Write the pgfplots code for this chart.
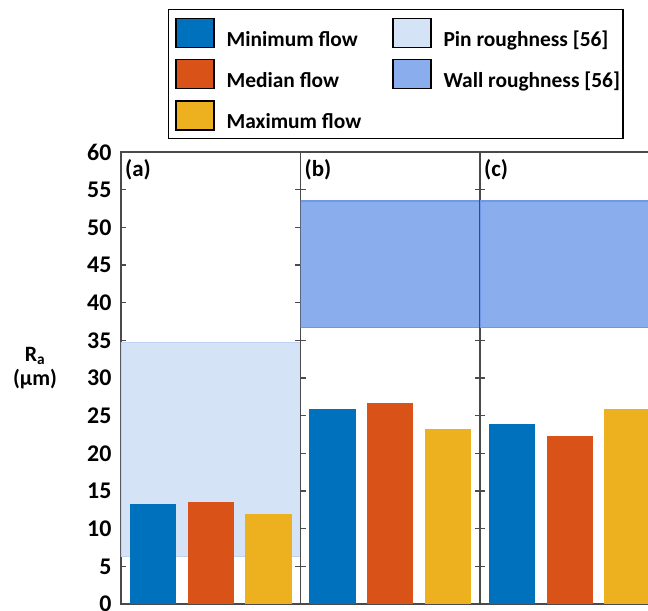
\documentclass[border=0pt]{standalone}
\usepackage{pgfplots}
\pgfplotsset{compat=1.18}
\usepackage{fontspec}
\setmainfont{Carlito}
\definecolor{cmin}{HTML}{0072BD}
\definecolor{cmed}{HTML}{D95319}
\definecolor{cmax}{HTML}{EDB120}
\definecolor{cpin}{HTML}{D5E3F7}
\definecolor{cpinedge}{HTML}{BFD2F4}
\definecolor{cwall}{HTML}{8AADEE}
\definecolor{cwalledge}{HTML}{6F97E4}
\definecolor{axgray}{HTML}{4A4A4A}

\tikzset{plab/.style={anchor=north west, inner sep=0pt, font=\fontsize{23}{23}\selectfont\bfseries}}
\pgfplotsset{
  panel/.style={
    scale only axis, width=179.5bp, height=452bp,
    xmin=0.45, xmax=3.55, ymin=0, ymax=60,
    xtick=\empty, ytick={0,5,...,60},
    tick align=inside, ytick pos=both, major tick length=5bp,
    axis line style={axgray, line width=1.3bp},
    every tick/.style={axgray, line width=1.2bp},
    bar width=0.8,
    /pgf/number format/assume math mode=true,
    tick label style={font=\fontsize{24}{24}\selectfont\bfseries},
    yticklabel style={xshift=-6bp},
    anchor=south west,
  },
  bars/.style={ybar, bar shift=0pt, draw=none, forget plot},
}

\begin{document}
\begin{tikzpicture}
% ---------------- panel (a)
\begin{axis}[panel, at={(0bp,0bp)},
  every axis y label/.style={at={(axis description cs:-0.479,0.522)}, anchor=center, align=center, font=\fontsize{22}{24}\selectfont\bfseries},
  ylabel={R\textsubscript{a}\\(µm)},
  legend columns=2,
  legend cell align=left,
  legend image code/.code={\path (0bp,0bp); \fill[#1] (4bp,-8bp) rectangle (42bp,21bp);},
  legend style={at={(1.53,1.316)}, anchor=north, draw=black, line width=1.3bp,
    font=\fontsize{21.5}{21.5}\selectfont\bfseries,
    nodes={inner sep=0pt},
    inner xsep=3bp, inner ysep=8bp,
    row sep=11bp, column sep=12bp,
    /tikz/every even column/.append style={column sep=27bp}},
]
\addlegendimage{fill=cmin}\addlegendentry{Minimum flow}
\addlegendimage{fill=cpin}\addlegendentry{Pin roughness [56]}
\addlegendimage{fill=cmed}\addlegendentry{Median flow}
\addlegendimage{fill=cwall}\addlegendentry{Wall roughness [56]}
\addlegendimage{fill=cmax}\addlegendentry{Maximum flow}
\addplot[fill=cpin, draw=cpinedge, line width=1.5bp, forget plot] coordinates {(0.45,6.3) (3.55,6.3) (3.55,34.7) (0.45,34.7)} -- cycle;
\addplot[bars, fill=cmin] coordinates {(1,13.3)};
\addplot[bars, fill=cmed] coordinates {(2,13.5)};
\addplot[bars, fill=cmax] coordinates {(3,12.0)};
\node[plab] at ([xshift=4bp,yshift=-7bp]rel axis cs:0,1) {(a)};
\end{axis}
% ---------------- panel (b)
\begin{axis}[panel, at={(179.5bp,0bp)}, yticklabels={}]
\addplot[fill=cwall, draw=cwalledge, line width=1.5bp, forget plot] coordinates {(0.45,36.7) (3.55,36.7) (3.55,53.5) (0.45,53.5)} -- cycle;
\addplot[bars, fill=cmin] coordinates {(1,25.9)};
\addplot[bars, fill=cmed] coordinates {(2,26.7)};
\addplot[bars, fill=cmax] coordinates {(3,23.2)};
\node[plab] at ([xshift=4bp,yshift=-7bp]rel axis cs:0,1) {(b)};
\end{axis}
% ---------------- panel (c)
\begin{axis}[panel, at={(359bp,0bp)}, yticklabels={}]
\addplot[fill=cwall, draw=cwalledge, line width=1.5bp, forget plot] coordinates {(0.45,36.7) (3.55,36.7) (3.55,53.5) (0.45,53.5)} -- cycle;
\addplot[bars, fill=cmin] coordinates {(1,23.9)};
\addplot[bars, fill=cmed] coordinates {(2,22.3)};
\addplot[bars, fill=cmax] coordinates {(3,25.9)};
\node[plab] at ([xshift=4bp,yshift=-7bp]rel axis cs:0,1) {(c)};
\end{axis}
\pgfresetboundingbox
\useasboundingbox (-121bp,-7bp) rectangle (527bp,604bp);
\end{tikzpicture}
\end{document}
